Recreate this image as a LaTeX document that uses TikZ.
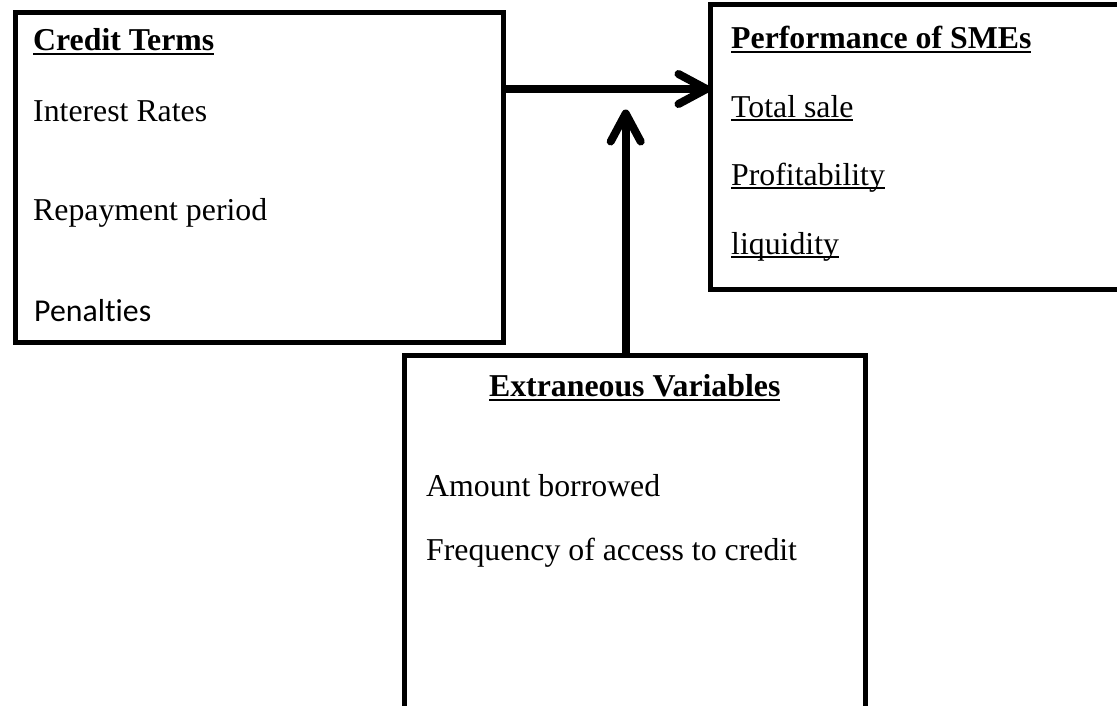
\documentclass[tikz,border=0pt]{standalone}
\usepackage{fontspec}
\setmainfont{Liberation Serif}
\newfontfamily\calibrifont[Ligatures=CommonOff]{Carlito}
\usetikzlibrary{arrows.meta}

% underline that runs through descenders, at a fixed depth below the baseline
\newcommand{\ulword}[2][0.12em]{\setbox0\hbox{#2}\rlap{\rule[-#1]{\wd0}{0.065em}}\box0}

\tikzset{
  frame/.style={draw=black, line width=5pt, rectangle, anchor=north west, inner sep=0pt},
  area/.style={rectangle, anchor=north west, inner sep=0pt, outer sep=2.5pt},
  border/.style={line width=5pt, line join=miter},
  bigarrow/.style={line width=8pt, -{Straight Barb[length=28pt, width=30pt, round]}},
  label/.style={anchor=base west, inner sep=0pt, font=\fontsize{31.8}{38}\selectfont},
}

\begin{document}
\begin{tikzpicture}[x=1pt, y=-1pt]
  \useasboundingbox (0,0) rectangle (1117,705);
  \clip (0,0) rectangle (1117,705);

  % the three boxes; the right one runs off the right edge, the lower one off the bottom
  \node[frame, minimum width=488pt, minimum height=330pt] (credit) at (13,9.5) {};
  \node[area, minimum width=420pt, minimum height=285pt] (perf) at (710.5,4.5) {};
  \draw[border] (1130,4.5) -- (710.5,4.5) -- (710.5,289.5) -- (1130,289.5);
  \node[area, minimum width=461.5pt, minimum height=360pt] (ext) at (404,355) {};
  \draw[border] (404,715) -- (404,355) -- (865.5,355) -- (865.5,715);

  % texts of the independent-variable box
  \node[label, font=\fontsize{31.8}{38}\selectfont\bfseries] (ctitle) at (33,50) {\ulword[0.17em]{Credit Terms}};
  \node[label] (c1) at (33,121.7) {Interest Rates};
  \node[label] (c2) at (33,220) {Repayment period};
  \node[label, font=\fontsize{31.8}{38}\selectfont\calibrifont] (c3) at (34,321.7) {Penalties};

  % texts of the dependent-variable box
  \node[label, font=\fontsize{31.8}{38}\selectfont\bfseries] (ptitle) at (731,48) {\ulword[0.15em]{Performance of SMEs}};
  \node[label] (p1) at (731,117) {\ulword{Total sale}};
  \node[label] (p2) at (731,185) {\ulword{Profitability}};
  \node[label] (p3) at (731,254) {\ulword{liquidity}};

  % texts of the extraneous-variable box
  \node[label, anchor=base, font=\fontsize{31.8}{38}\selectfont\bfseries] (etitle) at (634.75,396.7) {\ulword[0.15em]{Extraneous Variables}};
  \node[label] (e1) at (426,496) {Amount borrowed};
  \node[label] (e2) at (426,560) {Frequency of access to credit};

  % connectors
  \coordinate (cout) at ([yshift=-79.5pt]credit.north east);
  \draw[bigarrow] (cout) -- (cout -| perf.west);
  \coordinate (modtip) at (625.7,109.5);
  \draw[bigarrow] (modtip |- ext.north) -- (modtip);
\end{tikzpicture}
\end{document}
